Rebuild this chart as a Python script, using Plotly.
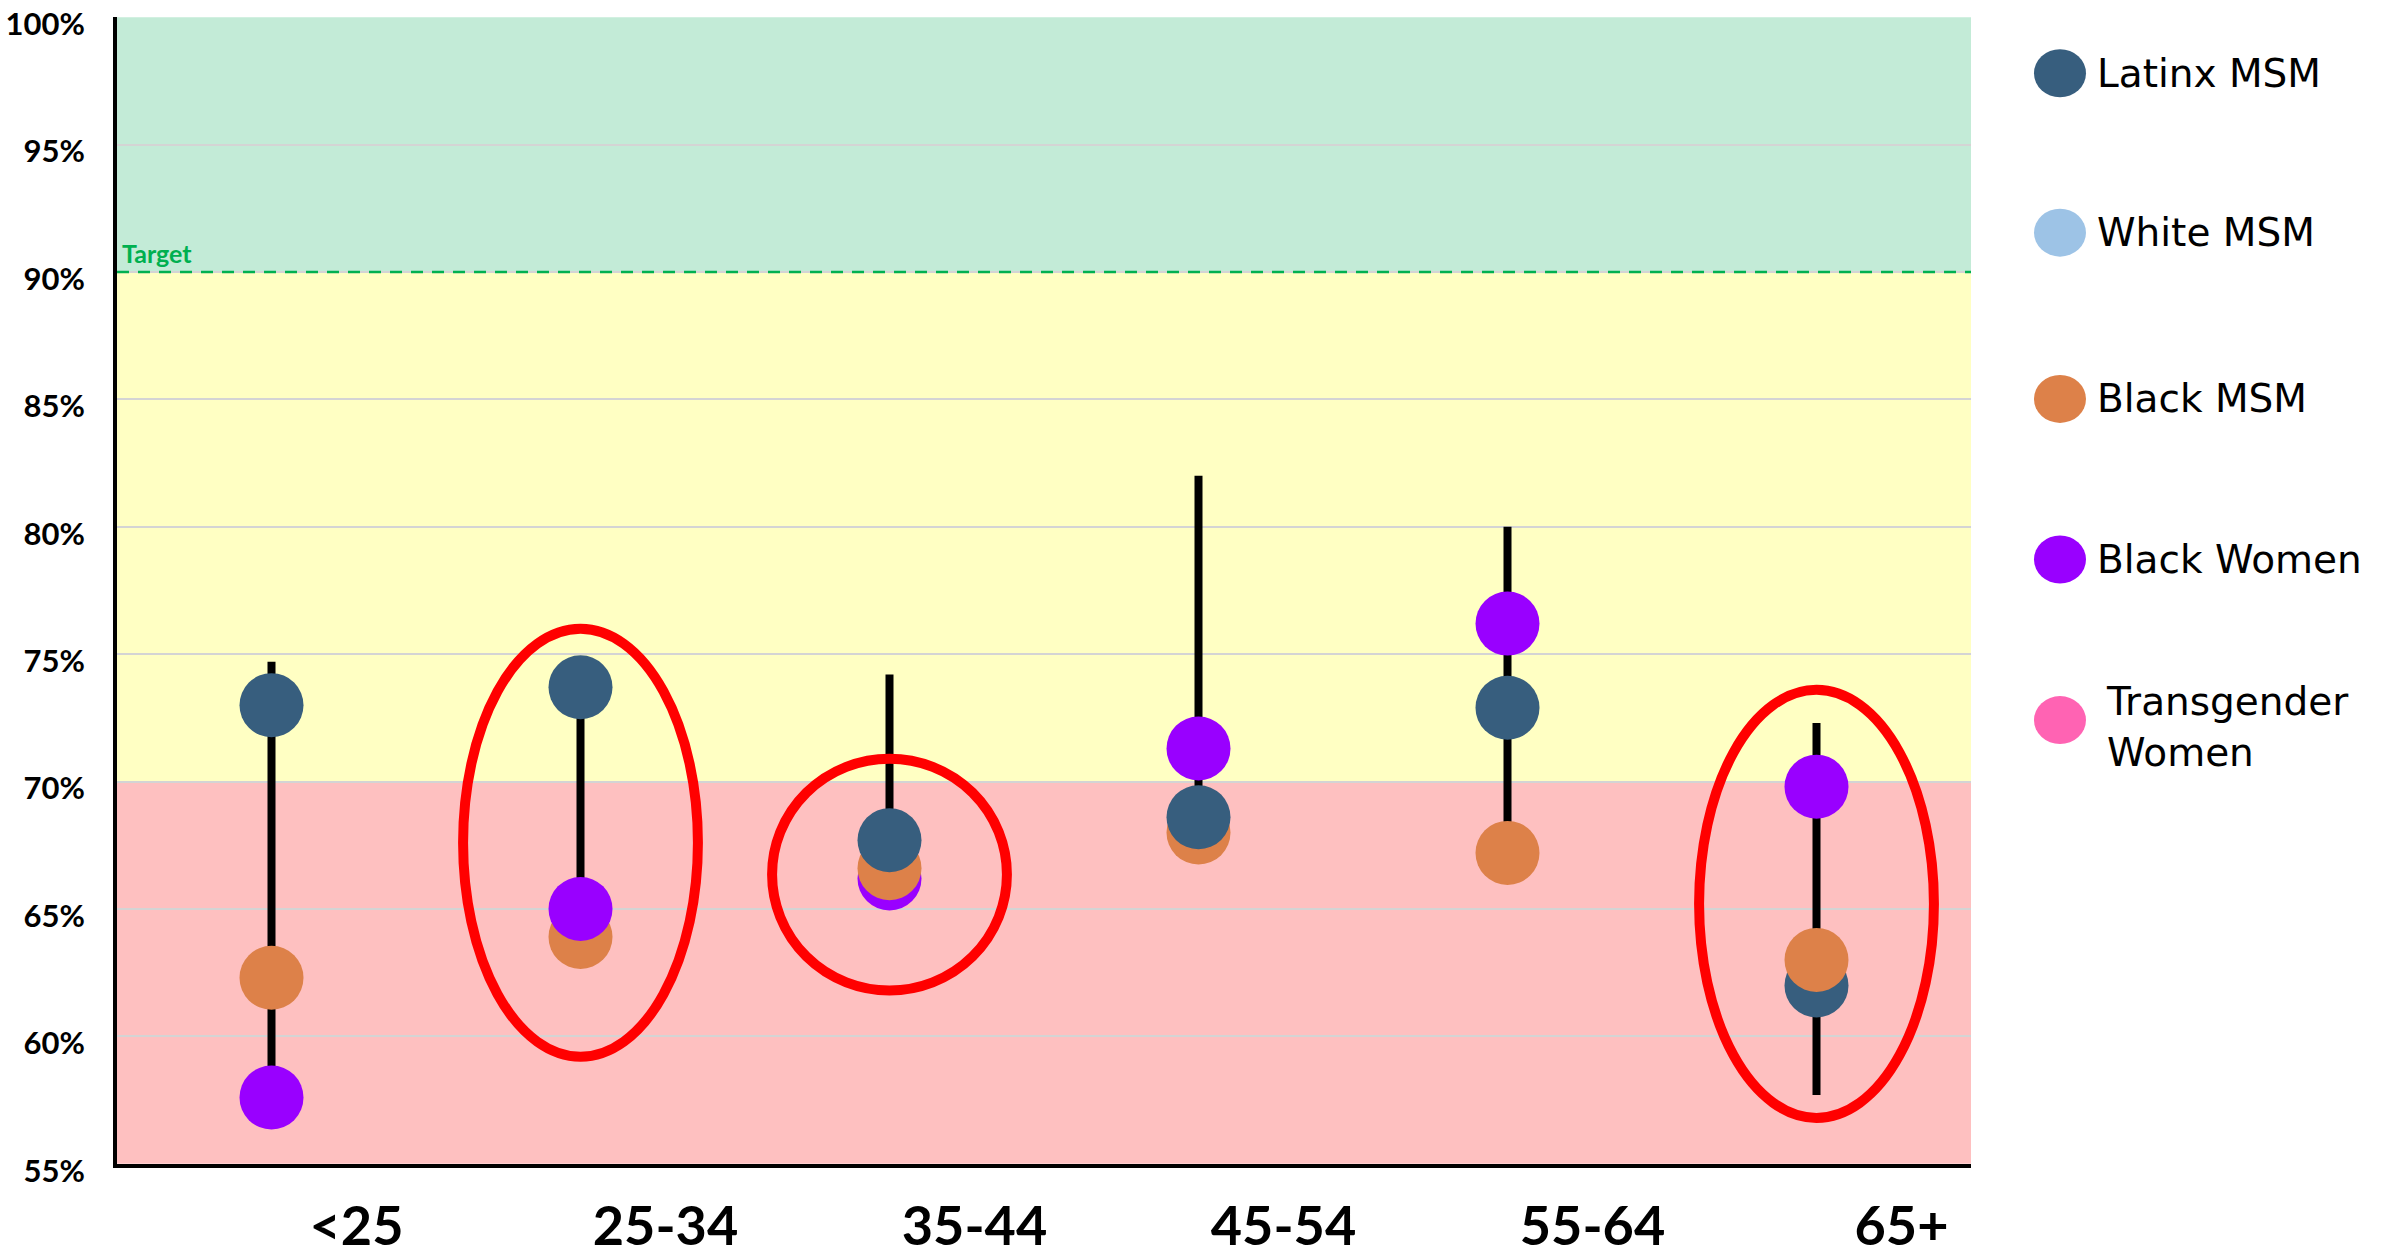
import plotly.graph_objects as go

# ---------------- data ----------------
categories = ["<25", "25-34", "35-44", "45-54", "55-64", "65+"]
latinx_msm = [73.0, 73.7, 67.7, 68.6, 72.9, 62.0]
black_msm = [62.3, 63.9, 66.6, 68.0, 67.2, 63.0]
black_women = [57.6, 65.0, 66.2, 71.3, 76.2, 69.8]
range_low = [57.6, 65.0, 65.6, 68.6, 67.2, 57.7]
range_high = [74.7, 73.7, 74.2, 82.0, 80.0, 72.3]

legend_names = ["Latinx MSM", "White MSM", "Black MSM", "Black Women", "Transgender<br>Women"]
legend_colors = ["#375E7E", "#9DC3E6", "#DD8149", "#9900FF", "#FF63B3"]

highlight_cats = ["25-34", "35-44", "65+"]
highlight_lo = [59.2, 61.8, 56.8]
highlight_hi = [76.0, 70.9, 73.6]

target = 90
y_ticks = [55, 60, 65, 70, 75, 80, 85, 90, 95, 100]

# ---------------- figure ----------------
fig = go.Figure()

# range lines
lx, ly = [], []
for c, lo, hi in zip(categories, range_low, range_high):
    lx += [c, c, None]
    ly += [lo, hi, None]
fig.add_trace(go.Scatter(x=lx, y=ly, mode="lines",
                         line=dict(color="black", width=8),
                         hoverinfo="skip", showlegend=False))

# dots: higher values drawn on top
series = [("Latinx MSM", latinx_msm, legend_colors[0]),
          ("Black MSM", black_msm, legend_colors[2]),
          ("Black Women", black_women, legend_colors[3])]
pts = []
for name, vals, col in series:
    for c, v in zip(categories, vals):
        pts.append((v, c, col, name))
pts.sort(key=lambda p: p[0])
fig.add_trace(go.Scatter(
    x=[p[1] for p in pts], y=[p[0] for p in pts], mode="markers",
    marker=dict(size=64, color=[p[2] for p in pts], line=dict(width=0)),
    hovertext=[p[3] for p in pts], hoverinfo="text+y", showlegend=False))

shapes = []
# background bands
bands = [(55, 70, "#FEC0C0"), (70, 90, "#FFFFC3"), (90, 100, "#C3EBD7")]
for y0, y1, col in bands:
    shapes.append(dict(type="rect", xref="paper", yref="y", x0=0, x1=1, y0=y0, y1=y1,
                       fillcolor=col, line=dict(width=0), layer="below"))
# target line
shapes.append(dict(type="line", xref="paper", yref="y", x0=0, x1=1, y0=target, y1=target,
                   line=dict(color="#00B050", width=2.5, dash="12px,9px")))
# highlight ellipses
for c, lo, hi in zip(highlight_cats, highlight_lo, highlight_hi):
    i = categories.index(c)
    shapes.append(dict(type="circle", xref="x", yref="y", x0=i - 0.38, x1=i + 0.38,
                       y0=lo, y1=hi, line=dict(color="#FF0000", width=10)))

# custom legend
annotations = []
leg_y = [0.951, 0.812, 0.667, 0.527, 0.387]
for name, col, yy in zip(legend_names, legend_colors, leg_y):
    shapes.append(dict(type="circle", xref="paper", yref="paper",
                       xsizemode="pixel", ysizemode="pixel",
                       xanchor=1.048, yanchor=yy, x0=-26, x1=26, y0=-24, y1=24,
                       fillcolor=col, line=dict(width=0)))
    two = "<br>" in name
    annotations.append(dict(xref="paper", yref="paper", x=1.072 if two else 1.067,
                            y=yy - (0.006 if two else 0), xanchor="left", yanchor="middle",
                            text=name, showarrow=False, align="left",
                            font=dict(family="DejaVu Sans", size=39, color="black")))

annotations.append(dict(xref="paper", yref="y", x=0, y=target, xanchor="left", yanchor="bottom",
                        xshift=3, yshift=2, text="<b>Target</b>", showarrow=False,
                        font=dict(family="Lato, Open Sans, sans-serif", size=25, color="#00B050")))

fig.update_layout(
    width=2387, height=1259,
    margin=dict(l=117, r=416, t=17, b=95, autoexpand=False),
    plot_bgcolor="white", paper_bgcolor="white",
    shapes=shapes, annotations=annotations, showlegend=False,
    xaxis=dict(type="category", categoryorder="array", categoryarray=categories,
               range=[-0.5, len(categories) - 0.5], automargin=False,
               showgrid=False, showline=True, linecolor="black", linewidth=4,
               ticks="", ticklabelshift=85, ticklabelstandoff=12,
               tickfont=dict(family="Lato, Open Sans, sans-serif", size=54, color="black",
                             weight="bold"),
               zeroline=False),
    yaxis=dict(range=[54.99, 100.01], tickvals=y_ticks, ticktext=[f"{v}%" for v in y_ticks],
               automargin=False, ticklabeloverflow="allow",
               showgrid=True, gridcolor="#D4D4D4", gridwidth=1.5,
               showline=True, linecolor="black", linewidth=4, ticks="",
               ticklabelstandoff=22, ticklabelshift=7,
               tickfont=dict(family="Lato, Open Sans, sans-serif", size=31, color="black",
                             weight="bold"),
               zeroline=False),
)

fig.write_html("out.html", config={"displayModeBar": False},
               post_script="document.body.style.margin='0';document.body.style.overflow='hidden';")
